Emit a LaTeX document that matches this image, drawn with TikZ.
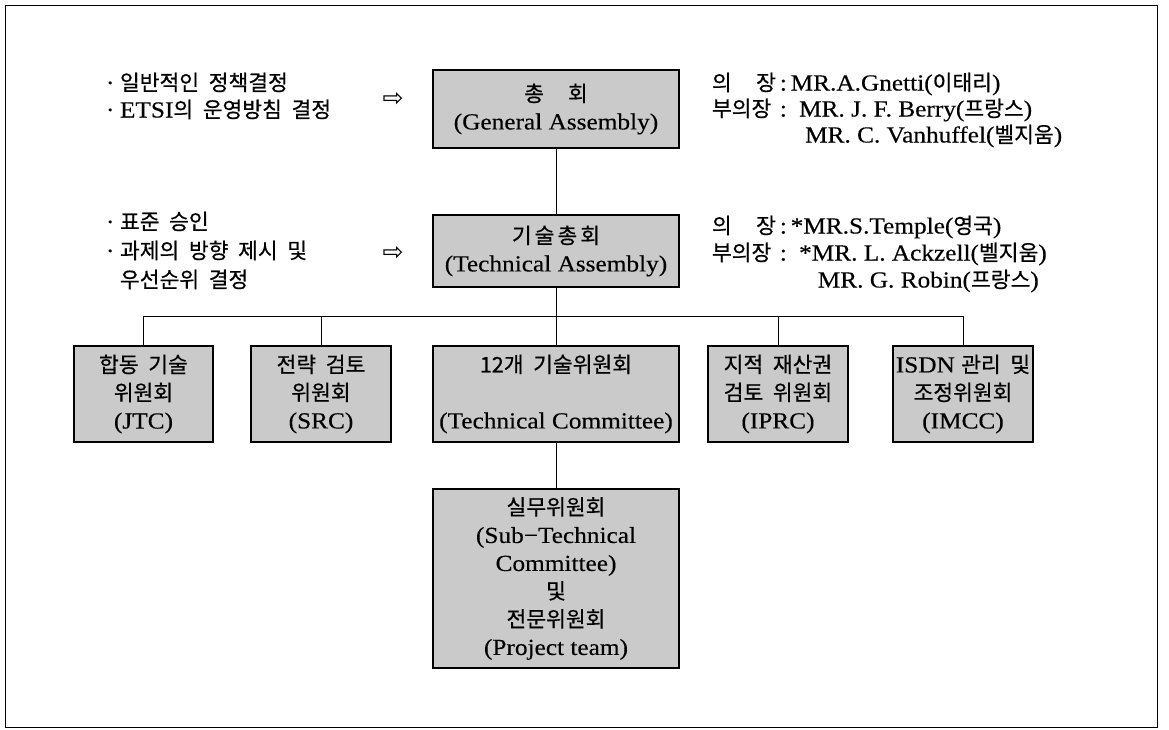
\documentclass[tikz,border=0pt]{standalone}
\usepackage{fontspec}
\setmainfont{Liberation Serif}[FakeStretch=1.1,FakeBold=0.3]
\newfontfamily\krfont{Noto Sans CJK KR}[WordSpace=2,FakeBold=0.6]
\newfontfamily\arrfont{DejaVu Sans}
\newcommand\K[1]{{\krfont\fontsize{21.5}{28}\selectfont #1}}
\newcommand\labsp[1]{\makebox[64pt][s]{#1}}
\definecolor{boxgray}{RGB}{202,202,202}
\begin{document}
\begin{tikzpicture}[x=1pt,y=-1pt,
  every node/.style={inner sep=0pt, outer sep=0pt},
  orgbox/.style={draw=black, line width=1.1pt, fill=boxgray, align=center,
    font=\fontsize{23}{28}\selectfont},
  txt/.style={anchor=west, font=\fontsize{23}{28}\selectfont,
    text height=16pt, text depth=5pt},
  arrowtxt/.style={font=\arrfont\fontsize{25}{28}\selectfont},
  link/.style={line width=1pt}]
\useasboundingbox (0,0) rectangle (1169,729);
\node[draw, line width=1pt, minimum width=1152pt, minimum height=722pt,
  anchor=north west] (frame) at (5,5) {};

% main boxes
\node[orgbox, minimum width=246pt, minimum height=78pt] (ga) at (556,109)
  {\K{총\hspace{24pt}회}\\(General Assembly)};
\node[orgbox, minimum width=246pt, minimum height=72pt] (ta) at (556,251)
  {\K{기\hspace{3pt}술\hspace{3pt}총\hspace{3pt}회}\\(Technical Assembly)};
\node[orgbox, minimum width=139pt, minimum height=96pt] (jtc) at (143.5,394)
  {\K{합동 기술}\\\K{위원회}\\(JTC)};
\node[orgbox, minimum width=140pt, minimum height=96pt] (src) at (321,394)
  {\K{전략 검토}\\\K{위원회}\\(SRC)};
\node[orgbox, minimum width=246pt, minimum height=96pt] (tc) at (556,394)
  {\K{12개 기술위원회}\\[28pt](Technical Committee)};
\node[orgbox, minimum width=140pt, minimum height=96pt] (iprc) at (778,394)
  {\K{지적 재산권}\\\K{검토 위원회}\\(IPRC)};
\node[orgbox, minimum width=140pt, minimum height=96pt] (imcc) at (963,394)
  {ISDN \K{관리 및}\\\K{조정위원회}\\(IMCC)};
\node[orgbox, minimum width=246pt, minimum height=179pt] (stc) at (556,578.5)
  {\K{실무위원회}\\(Sub−Technical\\Committee)\\\K{및}\\\K{전문위원회}\\(Project team)};

% connectors
\coordinate (hl) at (0,316);
\draw[link] (ga.south) -- (ta.north);
\draw[link] (ta.south) -- (tc.north);
\draw[link] (jtc.north) -- (jtc.north |- hl) -- (imcc.north |- hl) -- (imcc.north);
\draw[link] (src.north) -- (src.north |- hl);
\draw[link] (iprc.north) -- (iprc.north |- hl);
\draw[link] (tc.south) -- (stc.north);

% left notes
\node[txt] (l1a) at (106,85) {\makebox[14pt][l]{·}\K{일반적인 정책결정}};
\node[txt] (l1b) at (106,112) {\makebox[14pt][l]{·}ETSI\K{의 운영방침 결정}};
\node[arrowtxt] (arr1) at (393,99) {⇨};
\node[txt] (l2a) at (106,224) {\makebox[14pt][l]{·}\K{표준 승인}};
\node[txt] (l2b) at (106,253) {\makebox[14pt][l]{·}\K{과제의 방향 제시 및}};
\node[txt] (l2c) at (106,282) {\hspace*{14pt}\K{우선순위 결정}};
\node[arrowtxt] (arr2) at (393,253) {⇨};

% right notes
\node[txt] (r1a) at (712,85) {\labsp{\K{의}\hfill\K{장}}\,:\,MR.A.Gnetti(\K{이태리})};
\node[txt] (r1b) at (712,111) {\labsp{\K{부의장}}\,:\, MR. J. F. Berry(\K{프랑스})};
\node[txt] (r1c) at (712,137) {\phantom{\labsp{\K{부의장}}\,:\, }\hspace*{6pt}MR. C. Vanhuffel(\K{벨지움})};
\node[txt] (r2a) at (712,228) {\labsp{\K{의}\hfill\K{장}}\,:\,*MR.S.Temple(\K{영국})};
\node[txt] (r2b) at (712,255) {\labsp{\K{부의장}}\,:\, *MR. L. Ackzell(\K{벨지움})};
\node[txt] (r2c) at (712,282) {\phantom{\labsp{\K{부의장}}\,:\, *}\hspace*{6pt}MR. G. Robin(\K{프랑스})};
\end{tikzpicture}
\end{document}
